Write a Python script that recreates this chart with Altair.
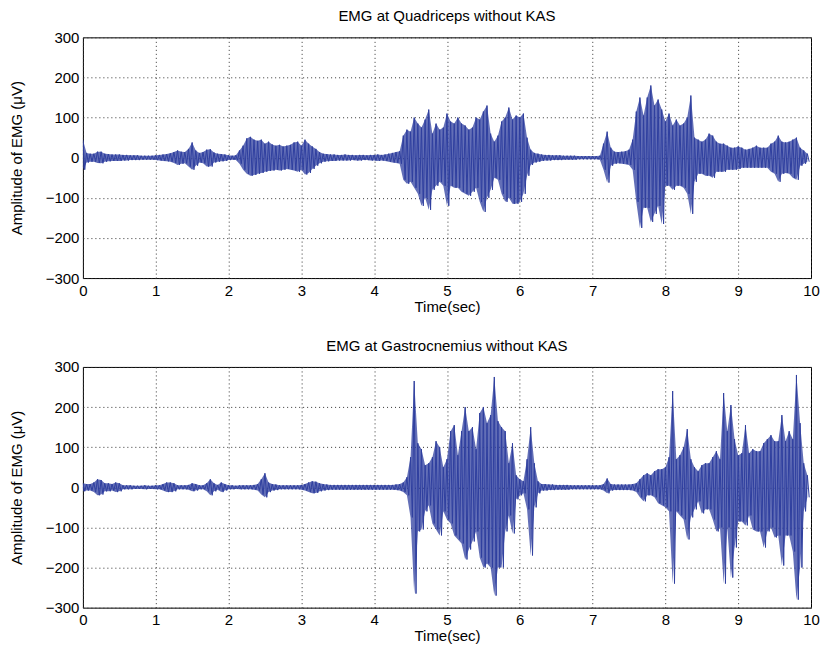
import altair as alt
import pandas as pd

FONT = "Liberation Sans"
LINE_COLOR = "#2f3f9f"

# Bin times (s): envelope values are read every 0.05 s; each bin gives a peak and a trough
STEP = 0.05

# ---- EMG at Quadriceps: upper / lower envelope per 0.05 s bin (µV) ----
Q_HI = [
    45, 12, 10, 10, 15, 15, 10, 9, 8, 8,
    8, 7, 7, 6, 6, 6, 5, 5, 5, 5,
    6, 7, 8, 9, 11, 14, 18, 15, 14, 22,
    38, 18, 12, 14, 20, 21, 13, 10, 9, 8,
    6, 5, 6, 18, 30, 48, 52, 45, 42, 45,
    35, 40, 33, 30, 32, 28, 30, 32, 38, 40,
    30, 45, 35, 28, 22, 14, 10, 9, 8, 8,
    7, 7, 8, 7, 7, 6, 7, 7, 6, 7,
    7, 8, 7, 8, 10, 12, 14, 16, 55, 70,
    65, 100, 85, 75, 95, 120, 60, 85, 70, 75,
    110, 90, 85, 100, 85, 80, 70, 75, 100, 95,
    115, 130, 60, 40, 55, 90, 100, 125, 95, 105,
    100, 110, 50, 20, 12, 10, 8, 7, 7, 6,
    6, 6, 5, 5, 5, 5, 4, 4, 4, 4,
    4, 4, 5, 35, 65, 25, 15, 14, 15, 16,
    20, 45, 115, 150, 105, 150, 180, 130, 145, 120,
    90, 110, 80, 95, 80, 85, 100, 155, 50, 45,
    40, 45, 60, 55, 40, 35, 35, 30, 25, 25,
    28, 25, 20, 22, 25, 30, 25, 25, 25, 35,
    40, 55, 40, 38, 40, 45, 50, 25, 18, 10,
]
Q_LO = [
    -30, -12, -10, -10, -13, -14, -10, -9, -8, -8,
    -8, -7, -7, -6, -6, -6, -5, -5, -5, -5,
    -6, -7, -8, -9, -10, -13, -18, -15, -14, -22,
    -30, -20, -12, -14, -22, -22, -12, -10, -9, -8,
    -6, -5, -6, -15, -30, -40, -45, -43, -40, -38,
    -35, -33, -32, -30, -32, -30, -28, -30, -32, -35,
    -30, -42, -38, -28, -20, -14, -10, -9, -8, -8,
    -7, -7, -7, -7, -6, -7, -7, -6, -6, -7,
    -7, -8, -7, -8, -10, -12, -13, -15, -55, -65,
    -60, -75, -90, -120, -100, -130, -80, -70, -60, -70,
    -120, -70, -75, -75, -85, -90, -95, -85, -75, -110,
    -135, -100, -80, -50, -55, -90, -110, -100, -115, -115,
    -110, -90, -45, -18, -12, -10, -8, -7, -7, -6,
    -6, -6, -5, -5, -5, -5, -4, -4, -4, -4,
    -4, -4, -5, -30, -62, -20, -15, -14, -15, -16,
    -18, -30, -110, -175, -125, -125, -160, -140, -120, -165,
    -70, -70, -80, -70, -70, -75, -90, -140, -60, -40,
    -40, -45, -45, -50, -35, -35, -35, -30, -30, -30,
    -28, -25, -25, -25, -25, -25, -25, -25, -25, -35,
    -40, -60, -40, -38, -40, -50, -55, -20, -15, -10,
]

# ---- EMG at Gastrocnemius: upper / lower envelope per 0.05 s bin (µV) ----
G_HI = [
    10, 8, 8, 12, 20, 18, 10, 10, 8, 12,
    10, 5, 5, 5, 4, 4, 4, 5, 4, 4,
    5, 5, 8, 12, 12, 10, 5, 5, 5, 6,
    10, 8, 5, 5, 10, 20, 10, 6, 12, 8,
    5, 5, 4, 5, 5, 5, 5, 6, 8, 20,
    35, 12, 8, 7, 5, 5, 5, 5, 5, 5,
    6, 8, 12, 15, 14, 10, 8, 7, 6, 6,
    6, 6, 6, 6, 6, 6, 6, 6, 6, 6,
    6, 6, 6, 6, 6, 6, 7, 8, 12, 25,
    75, 265, 110, 95, 55, 60, 75, 115, 100, 50,
    70, 140, 155, 80, 140, 200, 140, 150, 95, 185,
    200, 160, 180, 275, 165, 150, 140, 60, 110, 30,
    20, 15, 70, 150, 60, 15, 8, 8, 7, 7,
    6, 6, 6, 6, 5, 5, 5, 5, 5, 5,
    5, 5, 5, 8, 22, 8, 7, 7, 7, 7,
    7, 8, 10, 20, 30, 35, 30, 40, 45, 45,
    50, 75, 240, 70, 80, 100, 145, 70, 50, 40,
    55, 60, 60, 75, 90, 70, 235, 140, 205, 120,
    80, 85, 155, 85, 95, 90, 90, 110, 120, 130,
    115, 115, 180, 115, 140, 120, 280, 160, 60, 30,
]
G_LO = [
    -10, -8, -8, -12, -20, -18, -10, -10, -8, -12,
    -10, -5, -5, -5, -4, -4, -4, -5, -4, -4,
    -5, -5, -8, -12, -12, -10, -5, -5, -5, -6,
    -10, -8, -5, -5, -10, -20, -10, -6, -12, -8,
    -5, -5, -4, -5, -5, -5, -5, -6, -8, -18,
    -25, -12, -8, -7, -5, -5, -5, -5, -5, -5,
    -6, -8, -12, -15, -14, -10, -8, -7, -6, -6,
    -6, -6, -6, -6, -6, -6, -6, -6, -6, -6,
    -6, -6, -6, -6, -6, -6, -7, -8, -12, -20,
    -75, -265, -110, -105, -60, -45, -90, -105, -120, -60,
    -80, -90, -120, -130, -140, -180, -155, -135, -110, -175,
    -200, -190, -200, -270, -200, -200, -110, -70, -115, -30,
    -20, -15, -55, -170, -50, -15, -8, -8, -7, -7,
    -6, -6, -6, -6, -5, -5, -5, -5, -5, -5,
    -5, -5, -5, -8, -15, -8, -7, -7, -7, -7,
    -7, -8, -12, -25, -35, -20, -20, -25, -40, -45,
    -50, -60, -240, -60, -70, -80, -130, -75, -55, -35,
    -65, -55, -55, -80, -110, -100, -240, -100, -225, -150,
    -85, -85, -95, -70, -105, -110, -110, -150, -110, -100,
    -125, -120, -195, -120, -120, -160, -280, -200, -60, -25,
]

X_TICKS = [0, 1, 2, 3, 4, 5, 6, 7, 8, 9, 10]
Y_TICKS = [-300, -200, -100, 0, 100, 200, 300]
TITLES = ["EMG at Quadriceps without KAS", "EMG at Gastrocnemius without KAS"]
X_TITLE = "Time(sec)"
Y_TITLE = "Amplitude of EMG (μV)"

W, H = 729, 241


def envelope(hi, lo):
    return pd.DataFrame({
        "t": [round(i * STEP, 4) for i in range(len(hi))],
        "hi": hi,
        "lo": lo,
    })


def trace(hi, lo):
    rows = []
    for i, (h, l) in enumerate(zip(hi, lo)):
        t = i * STEP
        rows.append({"t": round(t, 4), "v": h, "k": 2 * i})
        rows.append({"t": round(t + STEP / 2, 4), "v": l, "k": 2 * i + 1})
    return pd.DataFrame(rows)


def panel(hi, lo, title):
    x = alt.X(
        "t:Q",
        scale=alt.Scale(domain=[0, 10], nice=False, zero=False),
        axis=alt.Axis(values=X_TICKS, format="d", title=X_TITLE,
                      labelPadding=5, titlePadding=1),
    )
    y_axis = alt.Axis(values=Y_TICKS, format="d", title=Y_TITLE,
                      labelPadding=4, titlePadding=21)
    yscale = alt.Scale(domain=[-300, 300], nice=False)
    area = (
        alt.Chart(envelope(hi, lo))
        .mark_area(color=LINE_COLOR, opacity=0.75, clip=True, interpolate="linear")
        .encode(x=x, y=alt.Y("hi:Q", scale=yscale, axis=y_axis), y2="lo:Q")
    )
    line = (
        alt.Chart(trace(hi, lo))
        .mark_line(color=LINE_COLOR, strokeWidth=1, clip=True)
        .encode(x=x, y=alt.Y("v:Q", scale=yscale, axis=y_axis), order=alt.Order("k:Q"))
    )
    return alt.layer(area, line).properties(
        width=W, height=H,
        title=alt.Title(title, font=FONT, fontSize=15, fontWeight="normal",
                        color="black", offset=6),
    )


chart = (
    alt.vconcat(panel(Q_HI, Q_LO, TITLES[0]),
                panel(G_HI, G_LO, TITLES[1]),
                spacing=23)
    .properties(padding={"left": 0, "top": 0, "right": 0, "bottom": 0},
                background="white")
    .configure_view(stroke="black", strokeWidth=1)
    .configure_axis(
        grid=True,
        gridColor="#333333",
        gridDash=[1, 3],
        gridOpacity=1,
        gridWidth=1,
        domain=False,
        ticks=False,
        tickSize=0,
        labelFont=FONT,
        labelFontSize=15,
        labelColor="black",
        labelFlush=False,
        labelOverlap=False,
        titleFont=FONT,
        titleFontSize=15,
        titleFontWeight="normal",
        titleColor="black",
    )
)

chart.save("out.html", embed_options={"renderer": "svg", "actions": False})
